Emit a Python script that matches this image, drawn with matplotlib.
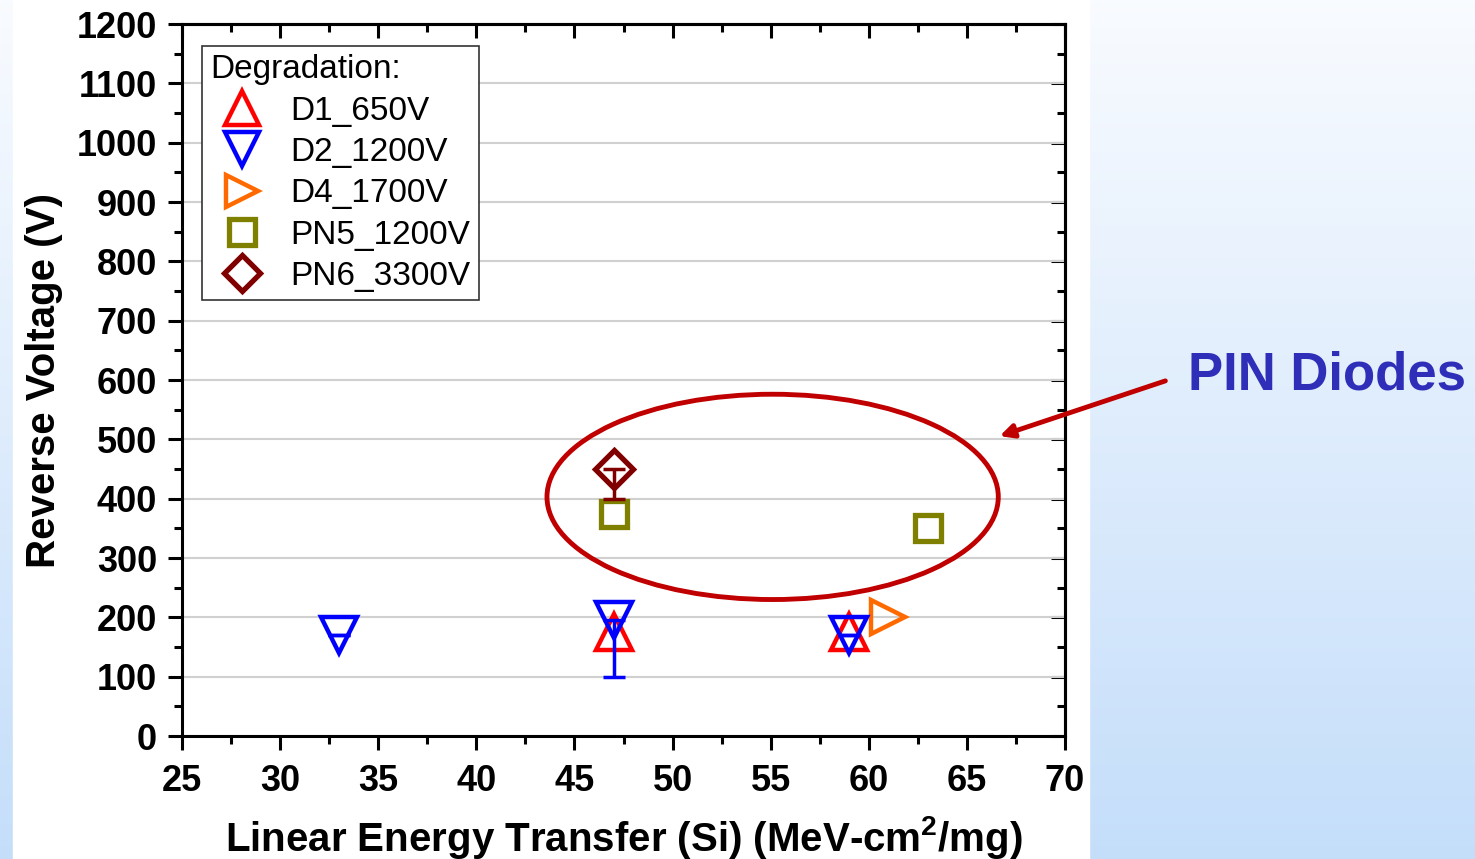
import numpy as np
import matplotlib
matplotlib.use("Agg")
import matplotlib.pyplot as plt
from matplotlib.patches import Ellipse, Rectangle, FancyArrowPatch
from matplotlib.lines import Line2D

plt.rcParams['font.family'] = ['Liberation Sans', 'DejaVu Sans']
plt.rcParams['mathtext.default'] = 'regular'

# ---- data ----
d1_x = [47, 59]
d1_y = [175, 175]
d2_x = [33, 47, 59]
d2_y = [170, 195, 170]
d2_err_low = [0, 95, 0]
d4_x = [61]
d4_y = [200]
pn5_x = [47, 63]
pn5_y = [375, 350]
pn6_x = [47]
pn6_y = [450]
pn6_err_low = [50]

series_labels = ["D1_650V", "D2_1200V", "D4_1700V", "PN5_1200V", "PN6_3300V"]
x_ticks = [25, 30, 35, 40, 45, 50, 55, 60, 65, 70]
y_ticks = [0, 100, 200, 300, 400, 500, 600, 700, 800, 900, 1000, 1100, 1200]

W, H = 1475, 859
fig = plt.figure(figsize=(W / 100, H / 100), dpi=100)

# background gradient
bg = fig.add_axes([0, 0, 1, 1], zorder=-10)
grad = np.linspace(0, 1, 256).reshape(-1, 1)
top = np.array([0.975, 0.985, 1.0])
bot = np.array([0.77, 0.87, 0.98])
img = top[None, None, :] * (1 - grad[:, :, None]) + bot[None, None, :] * grad[:, :, None]
bg.imshow(img, aspect='auto', extent=[0, 1, 0, 1], origin='upper')
bg.add_patch(Rectangle((13 / W, 0), (1089 - 13) / W, 1, color='white', zorder=2))
bg.set_xlim(0, 1)
bg.set_ylim(0, 1)
bg.axis('off')

ax = fig.add_axes([182 / W, 1 - 736 / H, (1065 - 182) / W, (736 - 24) / H])
ax.set_facecolor('white')

mew = 3.2
styles = [
    dict(marker='^', ms=26, mec='#ff0000', mew=mew),
    dict(marker='v', ms=26, mec='#0000ff', mew=mew),
    dict(marker='>', ms=24, mec='#ff6a00', mew=mew),
    dict(marker='s', ms=19, mec='#808000', mew=mew + 0.6),
    dict(marker='D', ms=19, mec='#800000', mew=mew + 0.6),
]

ax.plot(d1_x, d1_y, ls='none', mfc='none', zorder=4, **styles[0])
ax.errorbar(d2_x, d2_y, yerr=[d2_err_low, [0] * len(d2_x)], fmt='none',
            ecolor='#0000ff', elinewidth=2.5, capsize=8, capthick=2.5, zorder=5)
ax.plot(d2_x, d2_y, ls='none', mfc='none', zorder=5, **styles[1])
ax.plot(d4_x, d4_y, ls='none', mfc='none', zorder=4, **styles[2])
ax.plot(pn5_x, pn5_y, ls='none', mfc='none', zorder=4, **styles[3])
ax.errorbar(pn6_x, pn6_y, yerr=[pn6_err_low, [0]], fmt='none',
            ecolor='#800000', elinewidth=2.5, capsize=8, capthick=2.5, zorder=4)
ax.plot(pn6_x, pn6_y, ls='none', mfc='none', zorder=4, **styles[4])

ax.set_xlim(25, 70)
ax.set_ylim(0, 1200)
ax.set_xticks(x_ticks)
ax.set_yticks(y_ticks)
ax.set_xticks(np.arange(27.5, 70, 5), minor=True)
ax.set_yticks(np.arange(50, 1200, 100), minor=True)
ax.grid(axis='y', which='major', color='#d0d0d0', lw=1.5, zorder=0)
ax.set_axisbelow(True)

for s in ax.spines.values():
    s.set_linewidth(2.2)
ax.tick_params(which='major', direction='out', length=10, width=2.2, labelsize=26)
ax.tick_params(axis='x', which='major', pad=10)
ax.tick_params(axis='y', which='major', pad=8)
ax.tick_params(which='minor', direction='out', length=6, width=2.2)
for lab in ax.get_xticklabels() + ax.get_yticklabels():
    lab.set_fontweight('bold')

# inward ticks on top/right via secondary axes
axt = ax.secondary_xaxis('top')
axt.set_xticks(x_ticks)
axt.set_xticks(np.arange(27.5, 70, 5), minor=True)
axt.tick_params(which='major', direction='in', length=10, width=2.2, labeltop=False)
axt.tick_params(which='minor', direction='in', length=6, width=2.2)
axt.spines['top'].set_linewidth(2.2)
axr = ax.secondary_yaxis('right')
axr.set_yticks(y_ticks)
axr.set_yticks(np.arange(50, 1200, 100), minor=True)
axr.tick_params(which='major', direction='in', length=10, width=2.2, labelright=False)
axr.tick_params(which='minor', direction='in', length=6, width=2.2)
axr.spines['right'].set_linewidth(2.2)

ax.set_xlabel("Linear Energy Transfer (Si) (MeV-cm$^{2}$/mg)", fontsize=29, fontweight='bold', labelpad=11)
ax.set_ylabel("Reverse Voltage (V)", fontsize=29, fontweight='bold', labelpad=10)

handles = [Line2D([], [], ls='none', mfc='none', **st) for st in styles]
leg = ax.legend(handles, series_labels, loc='upper left',
                bbox_to_anchor=((202 - 182) / 883, (736 - 46) / 712),
                borderaxespad=0, title="Degradation:", fontsize=24, title_fontsize=24,
                frameon=True, fancybox=False, edgecolor='#333333', framealpha=1,
                handletextpad=0.5, labelspacing=0.31, borderpad=0.25, handlelength=1.9,
                markerscale=0.95)
leg.get_frame().set_linewidth(1.2)
leg._legend_box.align = 'left'

# ellipse highlight
ax.add_patch(Ellipse((55.1, 403), 23.0, 346, fill=False, ec='#c00000', lw=3.5, zorder=6))

# arrow & annotation in figure coords
fig.patches.append(FancyArrowPatch(
    (1168 / W, 1 - 380 / H), (997 / W, 1 - 437 / H), transform=fig.transFigure,
    arrowstyle='-|>,head_length=8,head_width=4', color='#c00000', lw=3.5, zorder=10))
fig.text(1188 / W, 1 - 375 / H, "PIN Diodes", fontsize=38, fontweight='bold',
         color='#2e2eb8', ha='left', va='center')

fig.savefig("out.png", dpi=100)
